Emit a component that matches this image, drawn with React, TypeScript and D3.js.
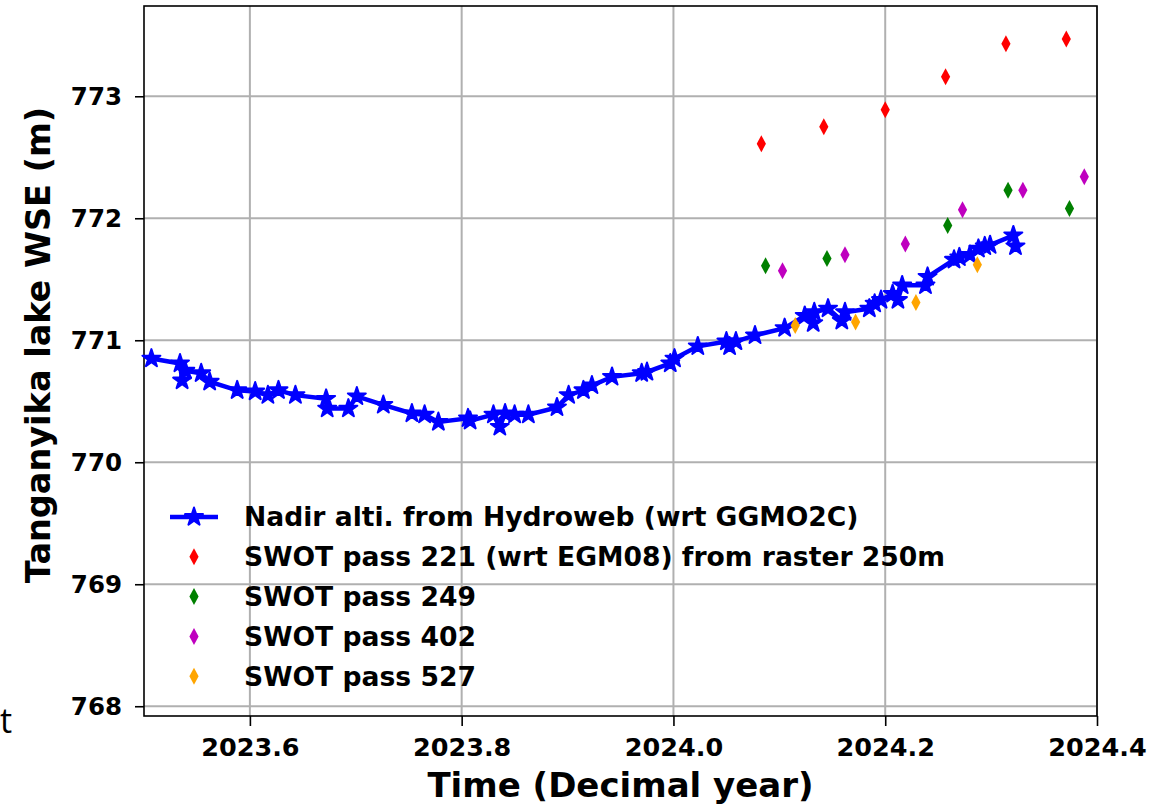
import React, { useEffect, useRef } from 'react';
import * as d3 from 'd3';

// Hydroweb nadir altimetry (decimal year, WSE in m)
const hydroTime = [
  2023.507, 2023.534, 2023.536, 2023.539, 2023.554, 2023.562, 2023.588, 2023.605, 2023.617, 2023.627,
  2023.643, 2023.672, 2023.673, 2023.693, 2023.701, 2023.726, 2023.753, 2023.765, 2023.778, 2023.806,
  2023.808, 2023.83, 2023.836, 2023.841, 2023.85, 2023.863, 2023.89, 2023.901, 2023.915, 2023.923,
  2023.942, 2023.97, 2023.975, 2023.997, 2024.001, 2024.023, 2024.05, 2024.053, 2024.059, 2024.077,
  2024.105, 2024.124, 2024.132, 2024.133, 2024.146, 2024.159, 2024.162, 2024.185, 2024.19, 2024.196,
  2024.207, 2024.212, 2024.216, 2024.238, 2024.24, 2024.265, 2024.27, 2024.28, 2024.288, 2024.294,
  2024.299, 2024.321, 2024.323,
];
const hydroWse = [
  770.85, 770.81, 770.67, 770.75, 770.73, 770.66, 770.59, 770.58, 770.55, 770.59,
  770.55, 770.52, 770.44, 770.44, 770.54, 770.47, 770.4, 770.39, 770.33, 770.36,
  770.34, 770.39, 770.29, 770.4, 770.39, 770.39, 770.45, 770.55, 770.59, 770.63,
  770.7, 770.73, 770.74, 770.81, 770.85, 770.95, 770.99, 770.95, 770.99, 771.04,
  771.1, 771.2, 771.14, 771.23, 771.26, 771.16, 771.23, 771.26, 771.3, 771.33,
  771.38, 771.33, 771.45, 771.45, 771.52, 771.66, 771.68, 771.7, 771.75, 771.77,
  771.78, 771.86, 771.77,
];

// SWOT passes
const pass221Time = [2024.083, 2024.142, 2024.2, 2024.257, 2024.314, 2024.371];
const pass221Wse = [772.61, 772.75, 772.89, 773.16, 773.43, 773.47];
const pass249Time = [2024.087, 2024.145, 2024.259, 2024.316, 2024.374];
const pass249Wse = [771.61, 771.67, 771.94, 772.23, 772.08];
const pass402Time = [2024.103, 2024.162, 2024.219, 2024.273, 2024.33, 2024.388];
const pass402Wse = [771.57, 771.7, 771.79, 772.07, 772.23, 772.34];
const pass527Time = [2024.115, 2024.172, 2024.229, 2024.287];
const pass527Wse = [771.12, 771.15, 771.31, 771.62];

const xTicks = [2023.6, 2023.8, 2024.0, 2024.2, 2024.4];
const yTicks = [768, 769, 770, 771, 772, 773];

const legendLabels = [
  'Nadir alti. from Hydroweb (wrt GGMO2C)',
  'SWOT pass 221 (wrt EGM08) from raster 250m',
  'SWOT pass 249',
  'SWOT pass 402',
  'SWOT pass 527',
];

const W = 1171;
const H = 806;
const FONT = '"DejaVu Sans", sans-serif';

const App = () => {
  const ref = useRef<SVGSVGElement>(null);

  useEffect(() => {
    const margin = { top: 6, right: 74, bottom: 90, left: 144 };
    const svg = d3.select(ref.current);
    svg.selectAll('*').remove();

    const x = d3.scaleLinear().domain([2023.5, 2024.4]).range([margin.left, W - margin.right]);
    const y = d3.scaleLinear().domain([767.92, 773.74]).range([H - margin.bottom, margin.top]);

    // grid
    const grid = svg.append('g');
    xTicks.forEach((t) => {
      grid.append('line')
        .attr('x1', x(t)).attr('x2', x(t))
        .attr('y1', y.range()[0]).attr('y2', y.range()[1])
        .attr('stroke', '#b0b0b0').attr('stroke-width', 2);
    });
    yTicks.forEach((t) => {
      grid.append('line')
        .attr('x1', x.range()[0]).attr('x2', x.range()[1])
        .attr('y1', y(t)).attr('y2', y(t))
        .attr('stroke', '#b0b0b0').attr('stroke-width', 2);
    });

    // axes
    const xAxis = d3.axisBottom(x).tickValues(xTicks).tickSize(10).tickPadding(12)
      .tickFormat((d) => d3.format('.1f')(d as number));
    const yAxis = d3.axisLeft(y).tickValues(yTicks).tickSize(9).tickPadding(13)
      .tickFormat((d) => String(d));

    const gx = svg.append('g').attr('transform', `translate(0,${H - margin.bottom})`).call(xAxis);
    const gy = svg.append('g').attr('transform', `translate(${margin.left},0)`).call(yAxis);
    [gx, gy].forEach((g, k) => {
      g.select('.domain').remove();
      g.selectAll('line').attr('stroke', '#000').attr('stroke-width', 1.6);
      g.selectAll('text')
        .attr('font-family', FONT).attr('font-size', k === 0 ? 25.5 : 24.5)
        .attr('font-weight', 'bold').attr('fill', '#000');
    });

    // frame
    svg.append('rect')
      .attr('x', x.range()[0]).attr('y', y.range()[1])
      .attr('width', x.range()[1] - x.range()[0])
      .attr('height', y.range()[0] - y.range()[1])
      .attr('fill', 'none').attr('stroke', '#000').attr('stroke-width', 1.6);

    // hydroweb line + stars
    const hydro = hydroTime.map((t, i) => [t, hydroWse[i]] as [number, number]);
    const line = d3.line<[number, number]>().x((d) => x(d[0])).y((d) => y(d[1]));
    svg.append('path').datum(hydro)
      .attr('d', line).attr('fill', 'none').attr('stroke', 'blue').attr('stroke-width', 4.5);
    const star = d3.symbol().type(d3.symbolStar).size(100);
    svg.append('g').selectAll('path').data(hydro).join('path')
      .attr('transform', (d) => `translate(${x(d[0])},${y(d[1])})`)
      .attr('d', star).attr('fill', 'blue').attr('stroke', 'blue').attr('stroke-width', 2)
      .attr('stroke-linejoin', 'round');

    // thin diamonds
    const diamond = 'M0,-8.5L4.6,0L0,8.5L-4.6,0Z';
    const passes: [number[], number[], string][] = [
      [pass221Time, pass221Wse, 'red'],
      [pass249Time, pass249Wse, 'green'],
      [pass402Time, pass402Wse, '#bf00bf'],
      [pass527Time, pass527Wse, 'orange'],
    ];
    passes.forEach(([ts, vs, c]) => {
      svg.append('g').selectAll('path').data(ts).join('path')
        .attr('transform', (d, i) => `translate(${x(d)},${y(vs[i])})`)
        .attr('d', diamond).attr('fill', c);
    });

    // legend
    const lg = svg.append('g').attr('transform', 'translate(170,517)');
    legendLabels.forEach((label, i) => {
      const row = lg.append('g').attr('transform', `translate(0,${i * 39.8})`);
      if (i === 0) {
        row.append('line').attr('x1', 0).attr('x2', 48).attr('stroke', 'blue').attr('stroke-width', 4.5);
        row.append('path').attr('transform', 'translate(24,0)').attr('d', star).attr('fill', 'blue')
          .attr('stroke', 'blue').attr('stroke-width', 2).attr('stroke-linejoin', 'round');
      } else {
        row.append('path').attr('transform', 'translate(24,0)').attr('d', diamond).attr('fill', passes[i - 1][2]);
      }
      row.append('text').attr('x', 74).attr('dy', '0.35em')
        .attr('font-family', FONT).attr('font-size', 26.6).attr('font-weight', 'bold').text(label);
    });

    // axis labels
    svg.append('text')
      .attr('x', (x.range()[0] + x.range()[1]) / 2).attr('y', 797)
      .attr('text-anchor', 'middle').attr('font-family', FONT).attr('font-size', 34).attr('font-weight', 'bold')
      .text('Time (Decimal year)');
    svg.append('text')
      .attr('transform', 'translate(50,345) rotate(-90)')
      .attr('text-anchor', 'middle').attr('font-family', FONT).attr('font-size', 33.5).attr('font-weight', 'bold')
      .text('Tanganyika lake WSE (m)');

    // stray glyph at the left edge
    svg.append('text').attr('x', 0).attr('y', 733).attr('text-anchor', 'start')
      .attr('font-family', '"Open Sans", sans-serif').attr('font-size', 34).text('t');
  }, []);

  return (
    <svg ref={ref} width={W} height={H} style={{ position: 'absolute', left: 0, top: 0, background: '#fff' }} />
  );
};

export default App;
